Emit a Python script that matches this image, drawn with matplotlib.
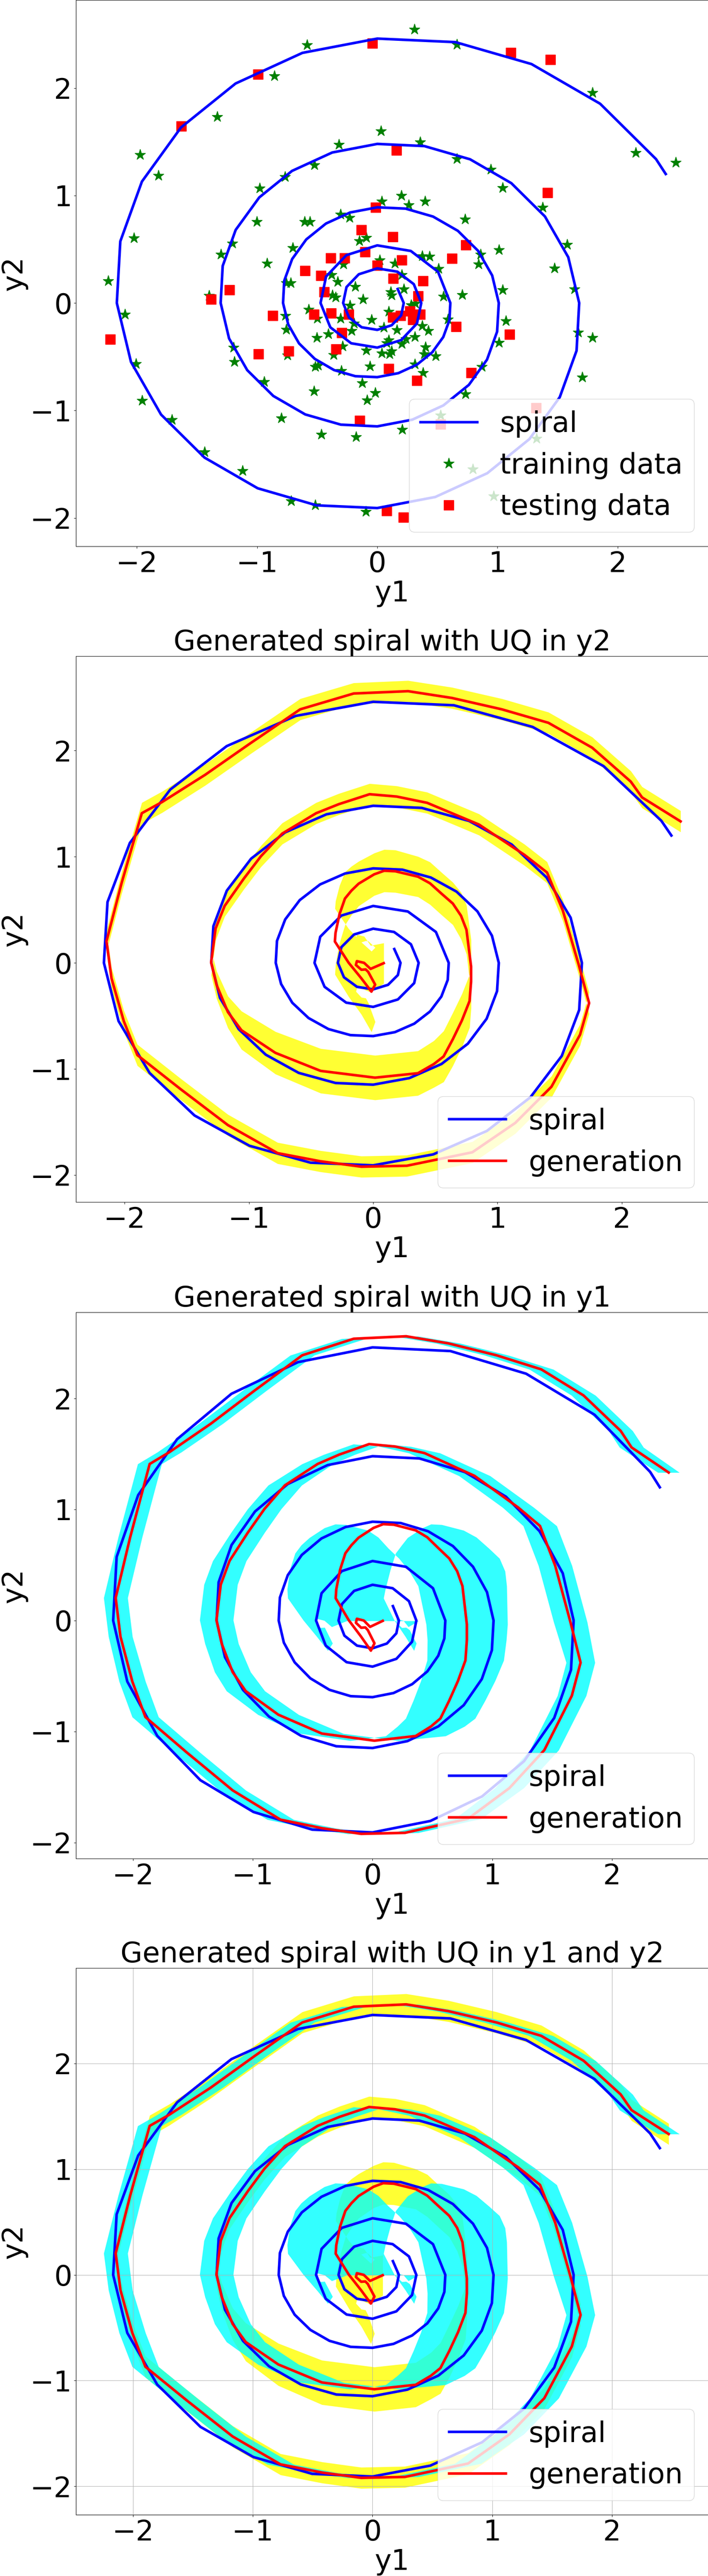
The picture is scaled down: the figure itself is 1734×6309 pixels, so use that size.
import numpy as np
import matplotlib.pyplot as plt

plt.rcParams['font.size'] = 50

spiral_x = [0.170,
            0.220, 0.199, 0.120, 0.000, -0.130, -0.235,
            -0.284, -0.256, -0.154, 0.000, 0.168, 0.304,
            0.366, 0.330, 0.199, 0.000, -0.217, -0.391,
            -0.472, -0.426, -0.257, 0.000, 0.279, 0.505,
            0.608, 0.600, 0.549, 0.458, 0.331, 0.175,
            0.000, -0.183, -0.360, -0.520, -0.651, -0.741,
            -0.784, -0.774, -0.708, -0.591, -0.427, -0.226,
            0.000, 0.235, 0.464, 0.671, 0.839, 0.956,
            1.011, 0.997, 0.913, 0.762, 0.550, 0.291,
            0.000, -0.303, -0.599, -0.865, -1.082, -1.233,
            -1.303, -1.286, -1.178, -0.982, -0.709, -0.375,
            0.000, 0.391, 0.772, 1.115, 1.395, 1.589,
            1.680, 1.658, 1.518, 1.266, 0.915, 0.483,
            0.000, -0.504, -0.995, -1.438, -1.799, -2.049,
            -2.167, -2.138, -1.958, -1.633, -1.179, -0.623,
            0.000, 0.650, 1.283, 1.854, 2.319, 2.400]
spiral_y = [0.130,
            0.000, -0.115, -0.207, -0.250, -0.226, -0.136,
            0.000, 0.148, 0.267, 0.322, 0.291, 0.175,
            0.000, -0.191, -0.345, -0.415, -0.375, -0.226,
            0.000, 0.246, 0.445, 0.536, 0.484, 0.291,
            0.000, -0.161, -0.317, -0.458, -0.573, -0.653,
            -0.690, -0.681, -0.624, -0.520, -0.376, -0.199,
            0.000, 0.207, 0.409, 0.591, 0.739, 0.842,
            0.890, 0.878, 0.804, 0.671, 0.485, 0.256,
            0.000, -0.267, -0.527, -0.762, -0.953, -1.086,
            -1.148, -1.132, -1.037, -0.865, -0.625, -0.330,
            0.000, 0.345, 0.680, 0.982, 1.229, 1.400,
            1.480, 1.460, 1.337, 1.115, 0.805, 0.426,
            0.000, -0.444, -0.877, -1.266, -1.584, -1.805,
            -1.908, -1.883, -1.724, -1.438, -1.038, -0.549,
            0.000, 0.573, 1.130, 1.633, 2.042, 2.327,
            2.460, 2.427, 2.223, 1.854, 1.339, 1.200]

# training data (green stars)
train_x = [0.308, -0.585, 0.664, -0.856, -1.332, 1.790, 2.150, 2.484, -1.974, -1.820,
           0.030, -0.319, 0.356, -0.522, 0.664, 0.946, -0.769, 1.043, -0.979, 1.377,
           -1.002, -2.023, -2.240, -2.101, -2.008, -1.955, -1.707, -1.437, -1.122, -0.717,
           -0.518, -0.094, 1.580, 1.475, 1.640, 1.670, 1.790, 1.707, 0.735, 0.871,
           1.013, 1.069, 1.043, 1.013, 0.844, 0.859, 0.199, -1.302, -1.205, -1.400,
           -1.197, -1.189, -0.799, -0.465, -0.176, 0.206, 0.525, 1.325, 0.795, 0.968,
           0.039, 0.260, 0.396, 0.731, -0.306, -0.232, -0.606, -0.561, -0.703, -0.918,
           -0.091, -0.148, -0.283, 0.022, 0.147, 0.374, 0.436, 0.510, 0.204, -0.380,
           -0.329, -0.182, 0.221, 0.113, 0.119, -0.374, -0.346, -0.119, 0.317, 0.708,
           0.549, -0.227, -0.572, -0.765, 0.096, -0.306, -0.499, -0.046, 0.589, -0.193,
           -0.759, -0.215, 0.056, 0.164, 0.374, 0.425, -0.408, -0.504, 0.311, 0.096,
           0.238, 0.204, 0.079, -0.289, 0.402, -0.091, 0.039, 0.102, 0.119, 0.391,
           0.487, -0.748, -0.363, -0.493, -0.516, -0.300, -0.062, 0.311, 0.379, -0.940,
           -0.125, -0.527, -0.017, -0.085, -0.720, -0.759, 0.283]
train_y = [2.547, 2.400, 2.405, 2.111, 1.734, 1.956, 1.399, 1.307, 1.378, 1.186,
           1.600, 1.475, 1.496, 1.286, 1.341, 1.244, 1.173, 1.072, 1.068, 0.888,
           0.758, 0.603, 0.205, -0.105, -0.566, -0.909, -1.085, -1.387, -1.563, -1.843,
           -1.881, -1.940, 0.545, 0.323, 0.130, -0.272, -0.323, -0.691, -0.846, -0.591,
           -0.369, -0.168, 0.121, 0.494, 0.360, 0.452, 1.001, 0.452, 0.553, 0.067,
           -0.415, -0.545, -1.072, -1.223, -1.244, -1.177, -1.043, -1.261, -1.546, -1.797,
           0.945, 0.913, 0.945, 0.780, 0.824, 0.793, 0.755, 0.755, 0.514, 0.369,
           0.609, 0.578, 0.362, 0.400, 0.369, 0.438, 0.432, 0.318, 0.261, 0.261,
           0.198, 0.153, 0.128, 0.103, 0.071, 0.071, 0.052, 0.033, -0.005, 0.077,
           0.060, -0.024, -0.062, -0.119, -0.081, -0.144, -0.144, -0.157, -0.151, -0.189,
           -0.246, -0.258, -0.227, -0.252, -0.214, -0.258, -0.290, -0.322, -0.315, -0.347,
           -0.334, -0.379, -0.374, -0.404, -0.410, -0.442, -0.467, -0.474, -0.448, -0.474,
           -0.493, -0.486, -0.484, -0.581, -0.594, -0.632, -0.588, -0.569, -0.651, -0.733,
           -0.746, -0.822, -0.835, -0.904, 0.185, 0.185, -0.018]

# testing data (red squares)
test_x = [-0.041, 1.111, 1.441, -0.991, -1.629, 0.158, 1.418, -1.231, -1.381, 1.099,
          -0.987, 0.780, -0.146, 0.079, 0.218, -2.221, 1.321, 0.525,
          -0.012, -0.133, 0.130, 0.736, -0.102, -0.388, -0.272, 0.204, 0.623, 0.000,
          -0.601, -0.470, 0.134, 0.379, -0.442, 0.340, -0.870, -0.527, -0.385, -0.238,
          0.130, 0.192, 0.272, 0.357, 0.294, -0.295, 0.657, -0.342, -0.737, 0.096, 0.328]
test_y = [2.417, 2.329, 2.266, 2.128, 1.646, 1.420, 1.026, 0.121, 0.034, -0.293,
          -0.473, -0.649, -1.093, -1.935, -1.994, -0.339, -0.976, -1.127,
          0.888, 0.679, 0.616, 0.540, 0.476, 0.419, 0.419, 0.400, 0.413, 0.350,
          0.299, 0.255, 0.229, 0.204, 0.103, 0.065, -0.119, -0.106, -0.096, -0.106,
          -0.132, -0.119, -0.075, -0.106, -0.157, -0.277, -0.220, -0.429, -0.448, -0.613, -0.721]

# generated spiral and its uncertainty half-widths
gen_x = [0.085, -0.021, -0.073, -0.131, -0.139, -0.095, -0.060, -0.040, 0.016, -0.014,
         -0.095, -0.198, -0.308, -0.303, -0.271, -0.227, -0.176, -0.117, 0.008, 0.089,
         0.178, 0.361, 0.457, 0.552, 0.641, 0.707, 0.751, 0.788, 0.788, 0.776,
         0.714, 0.641, 0.567, 0.488, 0.360, 0.015, -0.423, -0.787, -1.060, -1.169,
         -1.260, -1.304, -1.268, -1.195, -1.042, -0.903, -0.732, -0.459, -0.277, -0.029,
         0.189, 0.434, 0.852, 1.217, 1.399, 1.526, 1.654, 1.738, 1.665, 1.435,
         1.144, 0.798, 0.270, -0.095, -0.423, -0.769, -1.169, -1.552, -1.898, -2.007,
         -2.106, -2.146, -2.025, -1.862, -1.698, -1.352, -0.987, -0.587, -0.157, 0.281,
         0.634, 1.035, 1.410, 1.763, 2.073, 2.164, 2.474]
gen_y = [-0.003, -0.057, 0.000, 0.016, -0.020, -0.065, -0.062, -0.085, -0.205, -0.271,
         -0.146, 0.002, 0.201, 0.282, 0.458, 0.606, 0.679, 0.746, 0.834, 0.868,
         0.863, 0.812, 0.750, 0.650, 0.559, 0.444, 0.311, -0.035, -0.175, -0.359,
         -0.543, -0.720, -0.882, -0.954, -1.040, -1.082, -1.018, -0.848, -0.635, -0.464,
         -0.209, 0.004, 0.324, 0.537, 0.792, 1.005, 1.218, 1.410, 1.495, 1.589,
         1.567, 1.508, 1.303, 1.018, 0.852, 0.494, -0.017, -0.379, -0.677, -1.167,
         -1.508, -1.785, -1.912, -1.921, -1.870, -1.793, -1.529, -1.188, -0.869, -0.549,
         -0.145, 0.204, 0.750, 1.410, 1.516, 1.772, 2.070, 2.389, 2.538, 2.560,
         2.496, 2.389, 2.262, 2.027, 1.708, 1.559, 1.333]
unc_y2 = [0.19, 0.22, 0.25, 0.25, 0.25, 0.26, 0.27, 0.29, 0.35, 0.38,
          0.34, 0.32, 0.31, 0.30, 0.27, 0.25, 0.23, 0.21, 0.20, 0.20,
          0.20, 0.19, 0.20, 0.20, 0.20, 0.22, 0.23, 0.25, 0.25, 0.25,
          0.25, 0.25, 0.24, 0.22, 0.21, 0.21, 0.21, 0.20, 0.18, 0.15,
          0.13, 0.12, 0.11, 0.10, 0.10, 0.10, 0.10, 0.10, 0.10, 0.10,
          0.10, 0.10, 0.10, 0.10, 0.10, 0.10, 0.10, 0.10, 0.10, 0.10,
          0.10, 0.10, 0.10, 0.10, 0.10, 0.10, 0.10, 0.10, 0.10, 0.10,
          0.10, 0.10, 0.10, 0.10, 0.10, 0.10, 0.10, 0.10, 0.10, 0.10,
          0.10, 0.10, 0.10, 0.10, 0.10, 0.10, 0.10]
unc_y1 = [0.30, 0.32, 0.33, 0.33, 0.34, 0.34, 0.34, 0.35, 0.35, 0.36,
          0.37, 0.38, 0.40, 0.41, 0.42, 0.42, 0.42, 0.41, 0.41, 0.40,
          0.40, 0.40, 0.41, 0.42, 0.42, 0.40, 0.37, 0.34, 0.33, 0.32,
          0.31, 0.30, 0.29, 0.28, 0.25, 0.20, 0.18, 0.17, 0.16, 0.15,
          0.14, 0.14, 0.14, 0.14, 0.14, 0.14, 0.14, 0.13, 0.13, 0.13,
          0.13, 0.13, 0.13, 0.13, 0.14, 0.14, 0.14, 0.12, 0.12, 0.12,
          0.12, 0.11, 0.11, 0.11, 0.11, 0.11, 0.11, 0.11, 0.11, 0.11,
          0.10, 0.10, 0.10, 0.10, 0.10, 0.10, 0.10, 0.10, 0.10, 0.10,
          0.10, 0.10, 0.10, 0.10, 0.10, 0.10, 0.09]

titles = ['', 'Generated spiral with UQ in y2', 'Generated spiral with UQ in y1',
          'Generated spiral with UQ in y1 and y2']

gx = np.array(gen_x)
gy = np.array(gen_y)
s1 = np.array(unc_y1)
s2 = np.array(unc_y2)

W, H = 1734, 6309
fig = plt.figure(figsize=(W / 100, H / 100), dpi=100)

# panel boxes in pixels (top, bottom) and their axis limits
boxes = [(0, 1338), (1607, 2944), (3214, 4552), (4820, 6159)]
xlims = [(-2.507, 2.755), (-2.392, 2.698), (-2.478, 2.806), (-2.478, 2.806)]
ylims = [(-2.264, 2.819), (-2.254, 2.890), (-2.144, 2.776), (-2.270, 2.904)]

axes = []
for top, bottom in boxes:
    axes.append(fig.add_axes([186 / W, 1 - bottom / H, 1549 / W, (bottom - top) / H]))

lw = 4.6

# first panel: spiral with training / testing data
ax = axes[0]
ax.plot(spiral_x, spiral_y, 'b-', lw=lw, label='spiral', zorder=3)
ax.plot(train_x, train_y, 'g*', ms=20, label='training data')
ax.plot(test_x, test_y, 'rs', ms=17, label='testing data')

# generated spirals with uncertainty bands
for i, ax in enumerate(axes[1:], start=1):
    if i in (1, 3):
        ax.fill_between(gx, gy - s2, gy + s2, color='yellow', alpha=0.8, lw=0)
    if i in (2, 3):
        ax.fill_betweenx(gy, gx - s1, gx + s1, color='cyan', alpha=0.8, lw=0)
    ax.plot(spiral_x, spiral_y, 'b-', lw=lw, label='spiral')
    ax.plot(gen_x, gen_y, 'r-', lw=lw, label='generation')
    ax.set_title(titles[i], fontsize=50)

axes[3].grid(True)

for ax, xl, yl in zip(axes, xlims, ylims):
    ax.set_xlim(xl)
    ax.set_ylim(yl)
    ax.set_xticks([-2, -1, 0, 1, 2])
    ax.set_yticks([-2, -1, 0, 1, 2])
    ax.set_xlabel('y1')
    ax.set_ylabel('y2')
    ax.legend(loc='lower right')

fig.savefig('out.png', dpi=100)
